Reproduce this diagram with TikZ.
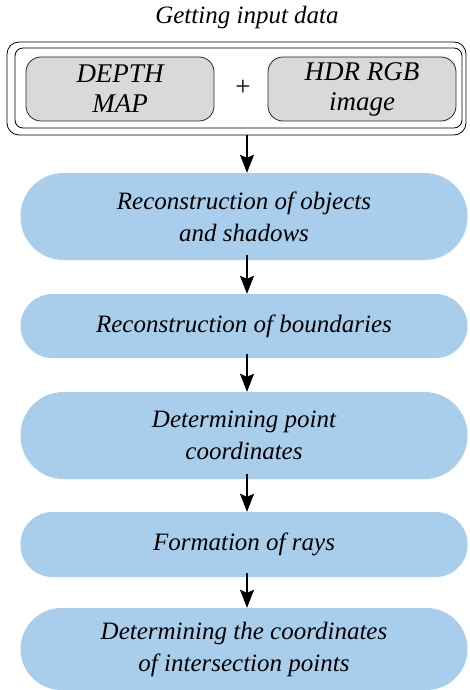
\documentclass[tikz,border=0pt]{standalone}
\usepackage{fontspec}
\setmainfont{Liberation Serif}
\usetikzlibrary{arrows.meta}
\definecolor{stepblue}{HTML}{A9CEEB}
\definecolor{inputgrey}{HTML}{D9D9D9}
\begin{document}
\begin{tikzpicture}[x=1pt,y=-1pt,
  txt/.style={font=\fontsize{25}{32}\selectfont\itshape, align=center},
  stepbox/.style={txt, fill=stepblue, draw=none, minimum width=447pt, inner sep=0pt},
  inbox/.style={txt, fill=inputgrey, draw=black!85, line width=0.8pt, rounded corners=15pt, minimum width=188pt, minimum height=64pt, inner sep=0pt, font=\fontsize{27}{30}\selectfont\itshape},
  flow/.style={line width=1.4pt, -{Stealth[length=18pt,width=14pt,inset=3pt]}}
]
\useasboundingbox (0,0) rectangle (469,690);
\node[txt] (title) at (247,17) {Getting input data};
\draw[line width=0.8pt, rounded corners=12pt] (7,42) rectangle (466,135);
\draw[line width=0.8pt, rounded corners=8pt] (15,48) rectangle (462,128);
\node[inbox] (depth) at (120,89) {DEPTH\\MAP};
\node[txt, font=\fontsize{27}{30}\selectfont] (plus) at (243,88) {+};
\node[inbox] (hdr) at (362,89) {HDR RGB\\image};
\coordinate (inbot) at (247,135);

\node[stepbox, minimum height=87pt, rounded corners=43pt] (s1) at (244,216.5) {Reconstruction of objects\\and shadows};
\node[stepbox, minimum height=64pt, rounded corners=32pt] (s2) at (244,326) {Reconstruction of boundaries};
\node[stepbox, minimum height=87pt, rounded corners=43pt] (s3) at (244,435.5) {Determining point\\coordinates};
\node[stepbox, minimum height=65pt, rounded corners=32pt] (s4) at (244,544.5) {Formation of rays};
\node[stepbox, minimum height=82pt, rounded corners=41pt] (s5) at (244,649) {Determining the coordinates\\of intersection points};

\draw[flow] (inbot) -- (inbot |- s1.north);
\draw[flow] ([yshift=5pt]s1.south -| inbot) -- (inbot |- s2.north);
\draw[flow] ([yshift=4pt]s2.south -| inbot) -- (inbot |- s3.north);
\draw[flow] ([yshift=5pt]s3.south -| inbot) -- (inbot |- s4.north);
\draw[flow] ([yshift=4pt]s4.south -| inbot) -- (inbot |- s5.north);
\end{tikzpicture}
\end{document}
